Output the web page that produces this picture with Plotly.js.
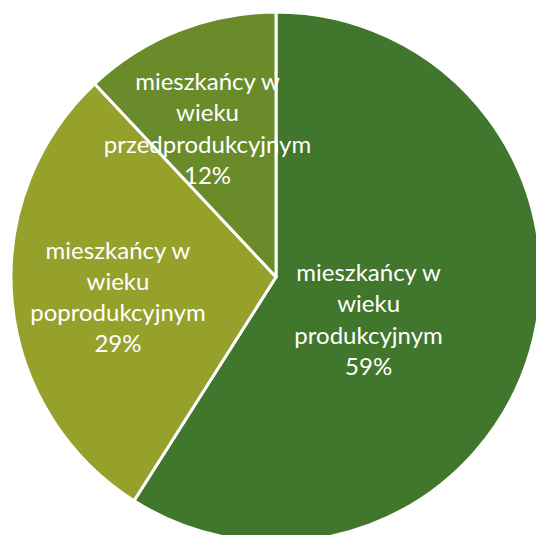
<!DOCTYPE html>
<html>
<head>
<meta charset="utf-8">
<script src="https://cdn.plot.ly/plotly-3.0.1.min.js"></script>
<style>
html, body { margin: 0; padding: 0; width: 536px; height: 535px; overflow: hidden; background: #ffffff; position: relative; }
#chart { position: absolute; left: -24px; top: -23px; width: 600px; height: 600px; }
</style>
</head>
<body>
<div id="chart"></div>
<script>
const categories = [
  "mieszkańcy w<br>wieku<br>produkcyjnym",
  "mieszkańcy w<br>wieku<br>poprodukcyjnym",
  "mieszkańcy w<br>wieku<br>przedprodukcyjnym"
];
const shares = [59, 29, 12];
const sliceColors = ["#41762d", "#95a12b", "#6a8b2a"];

const labelFont = { family: "Lato, 'Open Sans', sans-serif", size: 24, color: "#ffffff" };
const clear = ["rgba(0,0,0,0)", "rgba(0,0,0,0)", "rgba(0,0,0,0)"];
const common = {
  type: "pie",
  labels: categories,
  values: shares,
  sort: false,
  direction: "clockwise",
  rotation: 0,
  texttemplate: "%{label}<br>%{percent:.0%}",
  insidetextorientation: "horizontal",
  textfont: labelFont,
  hoverinfo: "none",
  showlegend: false
};

// visible pie, no labels of its own
const mainPie = Object.assign({}, common, {
  marker: { colors: sliceColors, line: { color: "#ffffff", width: 3 } },
  textposition: ["none", "none", "none"],
  domain: { x: [0.05833, 0.94167], y: [0.05833, 0.94167] }
});

// transparent overlays that only place the labels like the reference
const labelPieA = Object.assign({}, common, {
  marker: { colors: clear, line: { width: 0 } },
  textposition: ["inside", "none", "none"],
  rotation: 8,
  domain: { x: [0.16167, 0.83833], y: [0.16167, 0.83833] }
});
const labelPieB = Object.assign({}, common, {
  marker: { colors: clear, line: { width: 0 } },
  textposition: ["none", "inside", "none"],
  rotation: -1.5,
  domain: { x: [0.025, 0.975], y: [0.025, 0.975] }
});
const labelPieC = Object.assign({}, common, {
  marker: { colors: clear, line: { width: 0 } },
  textposition: ["none", "none", "inside"],
  rotation: -3,
  domain: { x: [0.125, 0.875], y: [0.125, 0.875] }
});

const layout = {
  width: 600,
  height: 600,
  margin: { l: 0, r: 0, t: 0, b: 0 },
  paper_bgcolor: "rgba(0,0,0,0)",
  plot_bgcolor: "rgba(0,0,0,0)",
  showlegend: false,
  uniformtext: { minsize: 24, mode: "show" }
};

Plotly.newPlot("chart", [mainPie, labelPieA, labelPieB, labelPieC], layout, { displayModeBar: false, staticPlot: true });
</script>
</body>
</html>
